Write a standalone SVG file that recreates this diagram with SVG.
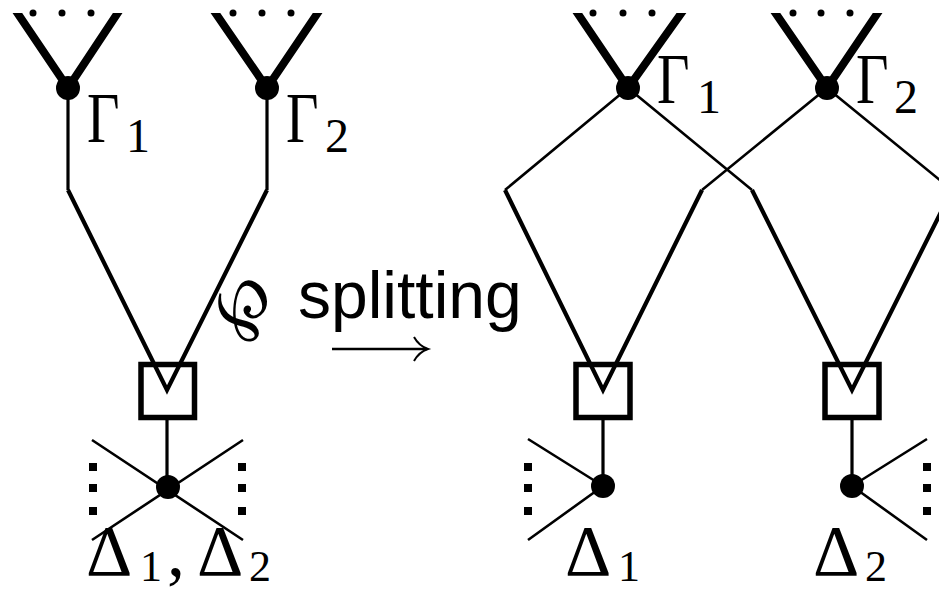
<svg xmlns="http://www.w3.org/2000/svg" width="939" height="591" viewBox="0 0 939 591">
<style>
.thick{stroke:#000;stroke-width:8;fill:none;stroke-linecap:butt}
.thin{stroke:#000;stroke-width:2.6;fill:none}
.vert{stroke:#000;stroke-width:3.2;fill:none}
.slant{stroke:#000;stroke-width:4.2;fill:none;stroke-linejoin:miter}
.box{stroke:#000;stroke-width:5.5;fill:none}
.dot{fill:#000}
.sq{fill:#000}
.math{font-family:"Liberation Serif","DejaVu Serif",serif;fill:#000}
.big{font-size:72px}
.sub{font-size:48px}
.lowsub{font-size:44px}
.sans{font-family:"Liberation Sans",Arial,sans-serif;font-size:66px;fill:#000}
</style>
<defs>
<clipPath id="top"><rect x="0" y="13" width="939" height="578"/></clipPath>
</defs>
<rect width="939" height="591" fill="#fff"/>

<g id="connectors">
  <!-- left diagram -->
  <path class="vert" d="M68,88 V190"/>
  <path class="vert" d="M267,88 V190"/>
  <path class="slant" d="M68,190 L167,390 L267,190"/>
  <path class="vert" d="M167,418 V486"/>
  <path class="thin" d="M92,440 L243,540 M243,440 L92,540"/>
  <!-- right diagram -->
  <path class="thin" d="M628,88 L505,190 M628,88 L752,190 M827,88 L702,190 M827,88 L952,190"/>
  <path class="slant" d="M505,190 L603,390 L702,190"/>
  <path class="slant" d="M752,190 L852,390 L952,190"/>
  <path class="vert" d="M603,418 V486 M852,418 V486"/>
  <path class="thin" d="M603,486 L528,439 M603,486 L528,540 M852,486 L927,439 M852,486 L927,540"/>
  <!-- splitting arrow -->
  <path class="thin" stroke-width="2" d="M332,349 H427"/>
  <path d="M414,337 Q419,346 428,349 Q419,352 414,361" fill="none" stroke="#000" stroke-width="2"/>
</g>

<g id="gamma1-left">
  <path class="thick" clip-path="url(#top)" d="M14,8 L68,88 L121,8"/>
  <circle class="dot" cx="33" cy="13" r="3.5"/><circle class="dot" cx="62" cy="13" r="3.5"/><circle class="dot" cx="91" cy="13" r="3.5"/>
  <circle class="dot" cx="68" cy="88" r="12"/>
  <text class="math big" transform="translate(87,142) scale(0.78,1)">Γ</text><text class="math sub" x="126" y="152">1</text>
</g>
<g id="gamma2-left">
  <path class="thick" clip-path="url(#top)" d="M212,8 L267,88 L321,8"/>
  <circle class="dot" cx="233" cy="13" r="3.5"/><circle class="dot" cx="262" cy="13" r="3.5"/><circle class="dot" cx="291" cy="13" r="3.5"/>
  <circle class="dot" cx="267" cy="88" r="12"/>
  <text class="math big" transform="translate(286,142) scale(0.78,1)">Γ</text><text class="math sub" x="325" y="152">2</text>
</g>
<g id="box-left">
  <rect class="box" x="141" y="364.5" width="53.5" height="53"/>
</g>
<g id="delta-left">
  <circle class="dot" cx="168" cy="487" r="12"/>
  <rect class="sq" x="89" y="463" width="8" height="8"/><rect class="sq" x="89" y="484" width="8" height="8"/><rect class="sq" x="89" y="507" width="8" height="8"/>
  <rect class="sq" x="238" y="463" width="8" height="8"/><rect class="sq" x="238" y="484" width="8" height="8"/><rect class="sq" x="238" y="507" width="8" height="8"/>
  <text class="math big" x="86" y="575">Δ</text><text class="math lowsub" x="140" y="581">1</text>
  <text class="math big" x="167" y="575">,</text>
  <text class="math big" x="197" y="575">Δ</text><text class="math lowsub" x="249" y="581">2</text>
</g>

<g id="label-splitting">
  <text class="math" font-family="DejaVu Serif,serif" font-size="66" text-anchor="middle" transform="translate(256,318) rotate(-40)">℘</text>
  <text class="sans" x="298" y="318">splitting</text>
</g>

<g id="gamma1-right">
  <path class="thick" clip-path="url(#top)" d="M574,8 L628,88 L685,8"/>
  <circle class="dot" cx="593" cy="13" r="3.5"/><circle class="dot" cx="623" cy="13" r="3.5"/><circle class="dot" cx="652" cy="13" r="3.5"/>
  <circle class="dot" cx="628" cy="88" r="12"/>
  <text class="math big" transform="translate(657,103) scale(0.78,1)">Γ</text><text class="math sub" x="697" y="113">1</text>
</g>
<g id="gamma2-right">
  <path class="thick" clip-path="url(#top)" d="M772,8 L827,88 L881,8"/>
  <circle class="dot" cx="793" cy="13" r="3.5"/><circle class="dot" cx="821" cy="13" r="3.5"/><circle class="dot" cx="850" cy="13" r="3.5"/>
  <circle class="dot" cx="827" cy="88" r="12"/>
  <text class="math big" transform="translate(856,103) scale(0.78,1)">Γ</text><text class="math sub" x="894" y="113">2</text>
</g>
<g id="box-right-1">
  <rect class="box" x="576" y="364.5" width="54" height="53"/>
</g>
<g id="box-right-2">
  <rect class="box" x="825" y="364.5" width="54" height="53"/>
</g>
<g id="delta1-right">
  <circle class="dot" cx="603" cy="486" r="12"/>
  <rect class="sq" x="524" y="463" width="8" height="8"/><rect class="sq" x="524" y="484" width="8" height="8"/><rect class="sq" x="524" y="507" width="8" height="8"/>
  <text class="math big" x="565" y="575">Δ</text><text class="math lowsub" x="618" y="581">1</text>
</g>
<g id="delta2-right">
  <circle class="dot" cx="852" cy="486" r="12"/>
  <rect class="sq" x="923" y="463" width="8" height="8"/><rect class="sq" x="923" y="484" width="8" height="8"/><rect class="sq" x="923" y="507" width="8" height="8"/>
  <text class="math big" x="813" y="575">Δ</text><text class="math lowsub" x="865" y="581">2</text>
</g>
</svg>
